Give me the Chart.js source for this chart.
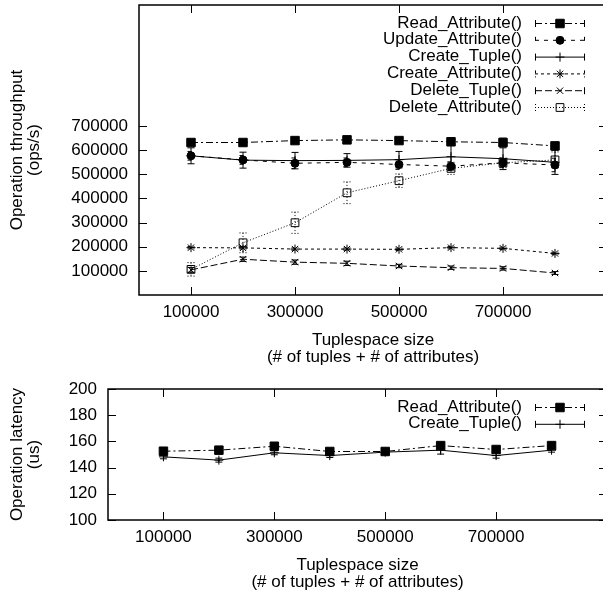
<!DOCTYPE html>
<html>
<head>
<meta charset="utf-8">
<script src="https://cdn.jsdelivr.net/npm/chart.js@4.4.1/dist/chart.umd.min.js"></script>
<style>
  body { margin: 0; background: #fff; }
  #wrap { position: relative; width: 603px; height: 595px; overflow: hidden; }
  canvas { position: absolute; left: 0; }
</style>
</head>
<body>
<div id="wrap">
  <canvas id="throughput-chart" width="610" height="370" style="top:0"></canvas>
  <canvas id="latency-chart" width="610" height="225" style="top:370px"></canvas>
</div>
<script>
// tuplespace sizes (x) and tick labels
const sizes = [100000, 200000, 300000, 400000, 500000, 600000, 700000, 800000];
const sizeTicks = [100000, 300000, 500000, 700000];
const throughputTicks = [100000, 200000, 300000, 400000, 500000, 600000, 700000];
const latencyTicks = [100, 120, 140, 160, 180, 200];

// throughput (ops/s) with error
const readAttr = [631000, 631000, 639000, 642000, 639000, 634000, 631000, 617000];
const readAttrErr = [8000, 6000, 6000, 5000, 6000, 14000, 18000, 8000];
const updateAttr = [576000, 559000, 545000, 549000, 540000, 533000, 547000, 538000];
const updateAttrErr = [18000, 18000, 22000, 18000, 20000, 18000, 20000, 28000];
const createTuple = [576000, 558000, 556000, 557000, 560000, 572000, 564000, 549000];
const createTupleErr = [33000, 33000, 34000, 28000, 34000, 55000, 45000, 50000];
const createAttr = [196000, 195000, 190000, 190000, 189000, 196000, 193000, 172000];
const createAttrErr = [5000, 5000, 5000, 5000, 5000, 5000, 5000, 5000];
const deleteTuple = [104000, 148000, 136000, 131000, 120000, 113000, 110000, 91000];
const deleteTupleErr = [10000, 9000, 9000, 9000, 7000, 7000, 7000, 6000];
const deleteAttr = [106000, 216000, 299000, 423000, 473000, 524000, 547000, 559000];
const deleteAttrErr = [28000, 41000, 44000, 45000, 28000, 25000, 20000, 33000];

// latency (us) with error
const latReadAttr = [152.5, 153.3, 156.3, 152.3, 152.3, 156.8, 153.8, 156.8];
const latReadAttrErr = [1, 1, 1, 1, 1, 1, 1, 1];
const latCreateTuple = [148.2, 145.7, 151.3, 149.2, 151.8, 153.3, 149.2, 153.3];
const latCreateTupleErr = [1.5, 1.5, 1.5, 1.5, 1, 3, 2, 1.5];

const FONT = '"Liberation Sans", Arial, Helvetica, sans-serif';
Chart.defaults.color = '#000';
Chart.defaults.font.family = FONT;
Chart.defaults.font.size = 17;

function series(label, values, errors, dash, pointStyle, radius, fill) {
    return {
        label: label,
        data: values.map((v, i) => ({ x: sizes[i], y: v })),
        errors: errors,
        borderColor: '#000',
        borderWidth: 1,
        borderDash: dash,
        pointStyle: pointStyle,
        pointRadius: radius,
        pointBorderColor: '#000',
        pointBackgroundColor: fill,
        pointBorderWidth: 1,
        tension: 0
    };
}

// vertical error bars with caps, drawn under the markers
const errorBars = {
    id: 'errorBars',
    beforeDatasetsDraw(chart) {
        const { ctx, scales: { x, y } } = chart;
        ctx.save();
        ctx.strokeStyle = '#000';
        ctx.lineWidth = 1;
        chart.data.datasets.forEach(ds => {
            ctx.setLineDash(ds.borderDash || []);
            ds.data.forEach((p, i) => {
                const e = ds.errors[i];
                const px = x.getPixelForValue(p.x);
                const top = y.getPixelForValue(p.y + e);
                const bot = y.getPixelForValue(p.y - e);
                ctx.beginPath();
                ctx.moveTo(px, top); ctx.lineTo(px, bot);
                ctx.moveTo(px - 3.5, top); ctx.lineTo(px + 3.5, top);
                ctx.moveTo(px - 3.5, bot); ctx.lineTo(px + 3.5, bot);
                ctx.stroke();
            });
        });
        ctx.restore();
    }
};

// gnuplot-like border with inward ticks on all four sides
const frameTicks = {
    id: 'frameTicks',
    afterDraw(chart) {
        const { ctx, chartArea: a, scales: { x, y } } = chart;
        ctx.save();
        ctx.strokeStyle = '#000';
        ctx.lineWidth = 1;
        ctx.beginPath();
        x.ticks.forEach(t => {
            const px = Math.round(x.getPixelForValue(t.value)) + 0.5;
            ctx.moveTo(px, a.bottom); ctx.lineTo(px, a.bottom - 8);
            ctx.moveTo(px, a.top); ctx.lineTo(px, a.top + 8);
        });
        y.ticks.forEach(t => {
            const py = Math.round(y.getPixelForValue(t.value)) + 0.5;
            ctx.moveTo(a.left, py); ctx.lineTo(a.left + 8, py);
            ctx.moveTo(a.right, py); ctx.lineTo(a.right - 8, py);
        });
        ctx.stroke();
        ctx.lineWidth = 1.5;
        ctx.strokeRect(a.left, a.top, a.right - a.left, a.bottom - a.top);
        ctx.restore();
    }
};

// key in the top right: right aligned text, sample line on the right
const keyLegend = {
    id: 'keyLegend',
    afterDraw(chart, args, opts) {
        const { ctx, chartArea: a } = chart;
        ctx.save();
        ctx.font = '17px ' + FONT;
        ctx.textAlign = 'right';
        ctx.textBaseline = 'middle';
        chart.data.datasets.forEach((ds, i) => {
            const yy = a.top + opts.top + i * opts.spacing;
            ctx.fillStyle = '#000';
            ctx.fillText(ds.label, opts.textRight, yy);
            ctx.strokeStyle = '#000';
            ctx.lineWidth = 1;
            ctx.setLineDash(ds.borderDash || []);
            ctx.beginPath();
            ctx.moveTo(opts.sampleLeft, yy + 0.5); ctx.lineTo(opts.sampleRight, yy + 0.5);
            ctx.moveTo(opts.sampleLeft + 0.5, yy - 3); ctx.lineTo(opts.sampleLeft + 0.5, yy + 4);
            ctx.moveTo(opts.sampleRight - 0.5, yy - 3); ctx.lineTo(opts.sampleRight - 0.5, yy + 4);
            ctx.stroke();
            ctx.setLineDash([]);
            ctx.fillStyle = ds.pointBackgroundColor;
            Chart.helpers.drawPoint(ctx, {
                pointStyle: ds.pointStyle, radius: ds.pointRadius, borderWidth: 1, rotation: 0
            }, (opts.sampleLeft + opts.sampleRight) / 2, yy + 0.5);
        });
        ctx.restore();
    }
};

function noPadding(axis) {
    axis.paddingTop = 0;
    axis.paddingBottom = 0;
    axis.paddingLeft = 0;
    axis.paddingRight = 0;
}

function createGraph(element, datasets, yMin, yMax, yTicks, yTitle, yWidth, padTop) {
    return new Chart(element, {
        type: 'line',
        data: { datasets: datasets },
        plugins: [errorBars, frameTicks, keyLegend],
        options: {
            responsive: false,
            animation: false,
            devicePixelRatio: 1,
            layout: { autoPadding: false, padding: { top: padTop, right: 3, left: 0, bottom: 0 } },
            plugins: {
                legend: { display: false },
                tooltip: { enabled: false },
                keyLegend: { top: 18, spacing: 16.8, textRight: 522, sampleLeft: 535, sampleRight: 585 }
            },
            scales: {
                x: {
                    type: 'linear',
                    min: 0,
                    max: 900000,
                    afterBuildTicks: axis => { axis.ticks = sizeTicks.map(v => ({ value: v })); },
                    afterFit: axis => { axis.height = 75; noPadding(axis); },
                    grid: { display: false, drawTicks: false },
                    border: { display: false },
                    ticks: { padding: 9, font: { size: 17, lineHeight: 1 }, maxRotation: 0, callback: v => String(v) },
                    title: {
                        display: true,
                        text: ['Tuplespace size', '(# of tuples + # of attributes)'],
                        font: { size: 17, lineHeight: 1 },
                        padding: { top: 0, bottom: 4 }
                    }
                },
                y: {
                    type: 'linear',
                    min: yMin,
                    max: yMax,
                    afterBuildTicks: axis => { axis.ticks = yTicks.map(v => ({ value: v })); },
                    afterFit: axis => { axis.width = yWidth; noPadding(axis); },
                    grid: { display: false, drawTicks: false },
                    border: { display: false },
                    ticks: { padding: 11, font: { size: 17, lineHeight: 1 }, callback: v => String(v) },
                    title: {
                        display: true,
                        text: yTitle,
                        font: { size: 17, lineHeight: 1 },
                        padding: { top: 9, bottom: 0 }
                    }
                }
            }
        }
    });
}

createGraph(
    document.getElementById('throughput-chart'),
    [
        series('Read_Attribute()', readAttr, readAttrErr, [7, 3, 2, 3], 'rect', 6, '#000'),
        series('Update_Attribute()', updateAttr, updateAttrErr, [4, 5], 'circle', 4, '#000'),
        series('Create_Tuple()', createTuple, createTupleErr, [], 'cross', 4.5, '#000'),
        series('Create_Attribute()', createAttr, createAttrErr, [3, 3], 'star', 4.5, '#000'),
        series('Delete_Tuple()', deleteTuple, deleteTupleErr, [7, 3], 'crossRot', 4.5, '#000'),
        series('Delete_Attribute()', deleteAttr, deleteAttrErr, [1, 2], 'rect', 5.5, 'rgba(0,0,0,0)')
    ],
    0, 1200000, throughputTicks, ['Operation throughput', '(ops/s)'], 139, 5
);

createGraph(
    document.getElementById('latency-chart'),
    [
        series('Read_Attribute()', latReadAttr, latReadAttrErr, [7, 3, 2, 3], 'rect', 6, '#000'),
        series('Create_Tuple()', latCreateTuple, latCreateTupleErr, [], 'cross', 4.5, '#000')
    ],
    100, 200, latencyTicks, ['Operation latency', '(us)'], 108, 19
);
</script>
</body>
</html>
